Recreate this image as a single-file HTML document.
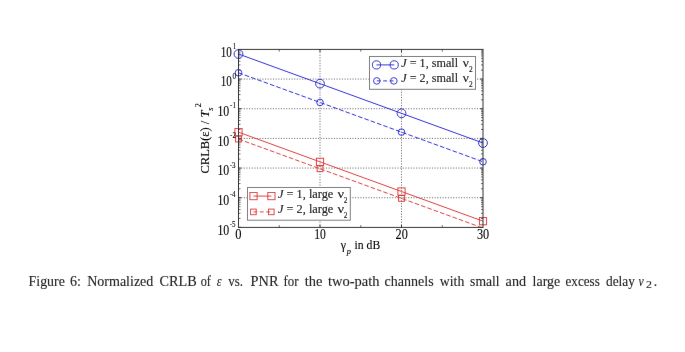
<!DOCTYPE html>
<html><head><meta charset="utf-8"><style>
html,body{margin:0;padding:0;background:#fff;}
body{width:685px;height:352px;overflow:hidden;}
svg{display:block;font-family:"Liberation Serif", serif;}
</style></head><body>
<svg width="685" height="352" viewBox="0 0 685 352"><defs><filter id="bl" filterUnits="userSpaceOnUse" x="0" y="0" width="685" height="352"><feConvolveMatrix order="3" kernelMatrix="0.00087 0.02776 0.00087 0.02776 0.88549 0.02776 0.00087 0.02776 0.00087" divisor="1" edgeMode="none"/></filter></defs><g filter="url(#bl)">
<line x1="320.00" y1="49.4" x2="320.00" y2="227.4" stroke="#6e6e6e" stroke-width="1" stroke-dasharray="1.1 1.55"/>
<line x1="401.50" y1="49.4" x2="401.50" y2="227.4" stroke="#6e6e6e" stroke-width="1" stroke-dasharray="1.1 1.55"/>
<line x1="238.5" y1="197.73" x2="483.0" y2="197.73" stroke="#6e6e6e" stroke-width="1" stroke-dasharray="1.1 1.55"/>
<line x1="238.5" y1="168.07" x2="483.0" y2="168.07" stroke="#6e6e6e" stroke-width="1" stroke-dasharray="1.1 1.55"/>
<line x1="238.5" y1="138.40" x2="483.0" y2="138.40" stroke="#6e6e6e" stroke-width="1" stroke-dasharray="1.1 1.55"/>
<line x1="238.5" y1="108.73" x2="483.0" y2="108.73" stroke="#6e6e6e" stroke-width="1" stroke-dasharray="1.1 1.55"/>
<line x1="238.5" y1="79.07" x2="483.0" y2="79.07" stroke="#6e6e6e" stroke-width="1" stroke-dasharray="1.1 1.55"/>
<path d="M320.00 227.4v-2.5M320.00 49.4v2.5M401.50 227.4v-2.5M401.50 49.4v2.5M238.5 227.40h2.8M483.0 227.40h-2.8M238.5 197.73h2.8M483.0 197.73h-2.8M238.5 168.07h2.8M483.0 168.07h-2.8M238.5 138.40h2.8M483.0 138.40h-2.8M238.5 108.73h2.8M483.0 108.73h-2.8M238.5 79.07h2.8M483.0 79.07h-2.8" stroke="#333333" stroke-width="1" fill="none"/>
<path d="M279.25 227.4v-2.2M279.25 49.4v2.2M360.75 227.4v-2.2M360.75 49.4v2.2M442.25 227.4v-2.2M442.25 49.4v2.2M238.5 218.47h2.0M483.0 218.47h-2.0M238.5 213.25h2.0M483.0 213.25h-2.0M238.5 209.54h2.0M483.0 209.54h-2.0M238.5 206.66h2.0M483.0 206.66h-2.0M238.5 204.31h2.0M483.0 204.31h-2.0M238.5 202.33h2.0M483.0 202.33h-2.0M238.5 200.61h2.0M483.0 200.61h-2.0M238.5 199.09h2.0M483.0 199.09h-2.0M238.5 188.80h2.0M483.0 188.80h-2.0M238.5 183.58h2.0M483.0 183.58h-2.0M238.5 179.87h2.0M483.0 179.87h-2.0M238.5 177.00h2.0M483.0 177.00h-2.0M238.5 174.65h2.0M483.0 174.65h-2.0M238.5 172.66h2.0M483.0 172.66h-2.0M238.5 170.94h2.0M483.0 170.94h-2.0M238.5 169.42h2.0M483.0 169.42h-2.0M238.5 159.14h2.0M483.0 159.14h-2.0M238.5 153.91h2.0M483.0 153.91h-2.0M238.5 150.21h2.0M483.0 150.21h-2.0M238.5 147.33h2.0M483.0 147.33h-2.0M238.5 144.98h2.0M483.0 144.98h-2.0M238.5 143.00h2.0M483.0 143.00h-2.0M238.5 141.27h2.0M483.0 141.27h-2.0M238.5 139.76h2.0M483.0 139.76h-2.0M238.5 129.47h2.0M483.0 129.47h-2.0M238.5 124.25h2.0M483.0 124.25h-2.0M238.5 120.54h2.0M483.0 120.54h-2.0M238.5 117.66h2.0M483.0 117.66h-2.0M238.5 115.31h2.0M483.0 115.31h-2.0M238.5 113.33h2.0M483.0 113.33h-2.0M238.5 111.61h2.0M483.0 111.61h-2.0M238.5 110.09h2.0M483.0 110.09h-2.0M238.5 99.80h2.0M483.0 99.80h-2.0M238.5 94.58h2.0M483.0 94.58h-2.0M238.5 90.87h2.0M483.0 90.87h-2.0M238.5 88.00h2.0M483.0 88.00h-2.0M238.5 85.65h2.0M483.0 85.65h-2.0M238.5 83.66h2.0M483.0 83.66h-2.0M238.5 81.94h2.0M483.0 81.94h-2.0M238.5 80.42h2.0M483.0 80.42h-2.0M238.5 70.14h2.0M483.0 70.14h-2.0M238.5 64.91h2.0M483.0 64.91h-2.0M238.5 61.21h2.0M483.0 61.21h-2.0M238.5 58.33h2.0M483.0 58.33h-2.0M238.5 55.98h2.0M483.0 55.98h-2.0M238.5 54.00h2.0M483.0 54.00h-2.0M238.5 52.27h2.0M483.0 52.27h-2.0M238.5 50.76h2.0M483.0 50.76h-2.0" stroke="#5a5a5a" stroke-width="0.9" fill="none"/>
<clipPath id="c"><rect x="238.5" y="49.4" width="244.5" height="178.0"/></clipPath>
<g clip-path="url(#c)"><polyline points="238.50,54.00 320.00,83.66 401.50,113.33 483.00,143.00" fill="none" stroke="#2a2ad2" stroke-width="0.95"/><polyline points="238.50,72.77 320.00,102.44 401.50,132.11 483.00,161.77" fill="none" stroke="#2a2ad2" stroke-width="0.95" stroke-dasharray="4.6 2.1"/><polyline points="238.50,132.18 320.00,161.85 401.50,191.52 483.00,221.18" fill="none" stroke="#dc3a3a" stroke-width="0.95"/><polyline points="238.50,139.06 320.00,168.73 401.50,198.39 483.00,228.06" fill="none" stroke="#dc3a3a" stroke-width="0.95" stroke-dasharray="4.6 2.1"/></g>
<circle cx="238.50" cy="54.00" r="4.4" fill="none" stroke="#2a2ad2" stroke-width="0.95"/><circle cx="320.00" cy="83.66" r="4.4" fill="none" stroke="#2a2ad2" stroke-width="0.95"/><circle cx="401.50" cy="113.33" r="4.4" fill="none" stroke="#2a2ad2" stroke-width="0.95"/><circle cx="483.00" cy="143.00" r="4.4" fill="none" stroke="#2a2ad2" stroke-width="0.95"/><circle cx="238.50" cy="72.77" r="3.3" fill="none" stroke="#2a2ad2" stroke-width="0.95"/><circle cx="320.00" cy="102.44" r="3.3" fill="none" stroke="#2a2ad2" stroke-width="0.95"/><circle cx="401.50" cy="132.11" r="3.3" fill="none" stroke="#2a2ad2" stroke-width="0.95"/><circle cx="483.00" cy="161.77" r="3.3" fill="none" stroke="#2a2ad2" stroke-width="0.95"/><rect x="234.90" y="128.58" width="7.2" height="7.2" fill="none" stroke="#dc3a3a" stroke-width="0.95"/><rect x="316.40" y="158.25" width="7.2" height="7.2" fill="none" stroke="#dc3a3a" stroke-width="0.95"/><rect x="397.90" y="187.92" width="7.2" height="7.2" fill="none" stroke="#dc3a3a" stroke-width="0.95"/><rect x="479.40" y="217.58" width="7.2" height="7.2" fill="none" stroke="#dc3a3a" stroke-width="0.95"/><rect x="235.60" y="136.16" width="5.8" height="5.8" fill="none" stroke="#dc3a3a" stroke-width="0.95"/><rect x="317.10" y="165.83" width="5.8" height="5.8" fill="none" stroke="#dc3a3a" stroke-width="0.95"/><rect x="398.60" y="195.49" width="5.8" height="5.8" fill="none" stroke="#dc3a3a" stroke-width="0.95"/>
<rect x="238.5" y="49.4" width="244.5" height="178.0" fill="none" stroke="#333333" stroke-width="1"/>
<rect x="369.5" y="56.5" width="106" height="32.8" fill="#fff" stroke="#7c7c7c" stroke-width="1"/>
<line x1="376.5" y1="64.9" x2="394.2" y2="64.9" stroke="#2a2ad2" stroke-width="0.95"/>
<circle cx="376.5" cy="64.9" r="4.1" fill="none" stroke="#2a2ad2" stroke-width="0.95"/>
<circle cx="394.2" cy="64.9" r="4.1" fill="none" stroke="#2a2ad2" stroke-width="0.95"/>
<line x1="376.8" y1="80.9" x2="393.8" y2="80.9" stroke="#2a2ad2" stroke-width="0.95" stroke-dasharray="3.9 2.5"/>
<circle cx="376.8" cy="80.9" r="3.3" fill="none" stroke="#2a2ad2" stroke-width="0.95"/>
<circle cx="393.8" cy="80.9" r="3.3" fill="none" stroke="#2a2ad2" stroke-width="0.95"/>
<rect x="247.5" y="187.5" width="102.8" height="32.7" fill="#fff" stroke="#7c7c7c" stroke-width="1"/>
<line x1="253.5" y1="196.1" x2="271.4" y2="196.1" stroke="#dc3a3a" stroke-width="0.95"/>
<rect x="249.9" y="192.5" width="7.2" height="7.2" fill="none" stroke="#dc3a3a" stroke-width="0.95"/>
<rect x="267.79999999999995" y="192.5" width="7.2" height="7.2" fill="none" stroke="#dc3a3a" stroke-width="0.95"/>
<line x1="253.4" y1="211.9" x2="271.3" y2="211.9" stroke="#dc3a3a" stroke-width="0.95" stroke-dasharray="3.9 2.5"/>
<rect x="250.6" y="209.1" width="5.6" height="5.6" fill="none" stroke="#dc3a3a" stroke-width="0.95"/>
<rect x="268.5" y="209.1" width="5.6" height="5.6" fill="none" stroke="#dc3a3a" stroke-width="0.95"/>
<text x="0" y="0" font-size="14.866" fill="#000000" stroke="#000000" stroke-width="0.1" transform="translate(217.42,234.65) scale(0.7955,1)">10</text>
<text x="0" y="0" font-size="7.800" fill="#000000" stroke="#000000" stroke-width="0.1" transform="translate(229.65,226.90) scale(0.9000,1)">-5</text>
<text x="0" y="0" font-size="14.866" fill="#000000" stroke="#000000" stroke-width="0.1" transform="translate(217.42,204.98) scale(0.7955,1)">10</text>
<text x="0" y="0" font-size="7.800" fill="#000000" stroke="#000000" stroke-width="0.1" transform="translate(229.65,197.23) scale(0.9000,1)">-4</text>
<text x="0" y="0" font-size="14.866" fill="#000000" stroke="#000000" stroke-width="0.1" transform="translate(217.42,175.32) scale(0.7955,1)">10</text>
<text x="0" y="0" font-size="7.800" fill="#000000" stroke="#000000" stroke-width="0.1" transform="translate(229.65,167.57) scale(0.9000,1)">-3</text>
<text x="0" y="0" font-size="14.866" fill="#000000" stroke="#000000" stroke-width="0.1" transform="translate(217.42,145.65) scale(0.7955,1)">10</text>
<text x="0" y="0" font-size="7.800" fill="#000000" stroke="#000000" stroke-width="0.1" transform="translate(230.10,137.90) scale(0.9000,1)">-2</text>
<text x="0" y="0" font-size="14.866" fill="#000000" stroke="#000000" stroke-width="0.1" transform="translate(217.42,115.98) scale(0.7955,1)">10</text>
<text x="0" y="0" font-size="7.800" fill="#000000" stroke="#000000" stroke-width="0.1" transform="translate(230.10,108.23) scale(0.9000,1)">-1</text>
<text x="0" y="0" font-size="14.866" fill="#000000" stroke="#000000" stroke-width="0.1" transform="translate(220.75,86.32) scale(0.7500,1)">10</text>
<text x="0" y="0" font-size="7.800" fill="#000000" stroke="#000000" stroke-width="0.1" transform="translate(232.50,78.87) scale(0.9000,1)">0</text>
<text x="0" y="0" font-size="14.866" fill="#000000" stroke="#000000" stroke-width="0.1" transform="translate(220.75,56.65) scale(0.7500,1)">10</text>
<text x="0" y="0" font-size="7.800" fill="#000000" stroke="#000000" stroke-width="0.1" transform="translate(232.80,48.60) scale(0.9000,1)">1</text>
<text x="0" y="0" font-size="14.866" fill="#000000" stroke="#000000" stroke-width="0.1" transform="translate(235.34,238.65) scale(0.8387,1)">0</text>
<text x="0" y="0" font-size="14.866" fill="#000000" stroke="#000000" stroke-width="0.1" transform="translate(314.13,238.65) scale(0.7803,1)">10</text>
<text x="0" y="0" font-size="14.866" fill="#000000" stroke="#000000" stroke-width="0.1" transform="translate(395.53,238.65) scale(0.8239,1)">20</text>
<text x="0" y="0" font-size="14.866" fill="#000000" stroke="#000000" stroke-width="0.1" transform="translate(476.93,238.65) scale(0.8239,1)">30</text>
<text x="0" y="0" font-size="11.800" fill="#000000" stroke="#000000" stroke-width="0.1" transform="translate(340.70,249.10) scale(1.0000,1)">&#947;</text>
<text x="0" y="0" font-size="8.200" fill="#000000" stroke="#000000" stroke-width="0.1" transform="translate(346.73,253.60) scale(1.0238,1)"><tspan font-style="italic">p</tspan></text>
<text x="0" y="0" font-size="11.800" fill="#000000" stroke="#000000" stroke-width="0.1" transform="translate(354.50,249.10) scale(0.9921,1)">in dB</text>
<text x="0" y="0" font-size="11.500" fill="#000000" stroke="#000000" stroke-width="0.1" transform="translate(401.22,66.80) scale(1.0583,1)"><tspan font-style="italic">J</tspan> = 1, small</text>
<text x="0" y="0" font-size="11.500" fill="#000000" stroke="#000000" stroke-width="0.1" transform="translate(462.87,66.80) scale(1.1667,1)">&#957;</text>
<text x="0" y="0" font-size="7.400" fill="#000000" stroke="#000000" stroke-width="0.1" transform="translate(468.90,71.80) scale(1.0000,1)">2</text>
<text x="0" y="0" font-size="11.500" fill="#000000" stroke="#000000" stroke-width="0.1" transform="translate(401.22,82.10) scale(1.0583,1)"><tspan font-style="italic">J</tspan> = 2, small</text>
<text x="0" y="0" font-size="11.500" fill="#000000" stroke="#000000" stroke-width="0.1" transform="translate(462.87,82.10) scale(1.1667,1)">&#957;</text>
<text x="0" y="0" font-size="7.400" fill="#000000" stroke="#000000" stroke-width="0.1" transform="translate(468.90,87.10) scale(1.0000,1)">2</text>
<text x="0" y="0" font-size="11.500" fill="#000000" stroke="#000000" stroke-width="0.1" transform="translate(278.03,198.10) scale(1.0703,1)"><tspan font-style="italic">J</tspan> = 1, large</text>
<text x="0" y="0" font-size="11.500" fill="#000000" stroke="#000000" stroke-width="0.1" transform="translate(337.40,198.10) scale(1.2619,1)">&#957;</text>
<text x="0" y="0" font-size="7.400" fill="#000000" stroke="#000000" stroke-width="0.1" transform="translate(343.80,202.85) scale(1.0000,1)">2</text>
<text x="0" y="0" font-size="11.500" fill="#000000" stroke="#000000" stroke-width="0.1" transform="translate(278.03,213.30) scale(1.0703,1)"><tspan font-style="italic">J</tspan> = 2, large</text>
<text x="0" y="0" font-size="11.500" fill="#000000" stroke="#000000" stroke-width="0.1" transform="translate(337.40,213.30) scale(1.2619,1)">&#957;</text>
<text x="0" y="0" font-size="7.400" fill="#000000" stroke="#000000" stroke-width="0.1" transform="translate(343.80,218.05) scale(1.0000,1)">2</text>
<text x="0" y="0" font-size="12.200" fill="#000000" stroke="#000000" stroke-width="0.1" transform="translate(208.60,173.50) rotate(-90) scale(1.0245,1)">CRLB(&#949;) / <tspan font-style="italic">T</tspan></text>
<text x="0" y="0" font-size="8.200" fill="#000000" stroke="#000000" stroke-width="0.1" transform="translate(212.90,110.70) rotate(-90) scale(1.0000,1)"><tspan font-style="italic">s</tspan></text>
<text x="0" y="0" font-size="8.200" fill="#000000" stroke="#000000" stroke-width="0.1" transform="translate(200.70,107.35) rotate(-90) scale(1.0000,1)">2</text>
<text x="0" y="0" font-size="13.600" fill="#222222" stroke="#222222" stroke-width="0.1" transform="translate(28.61,285.50) scale(1.0199,1)">Figure</text>
<text x="0" y="0" font-size="13.600" fill="#222222" stroke="#222222" stroke-width="0.1" transform="translate(69.91,285.50) scale(1.0326,1)">6:</text>
<text x="0" y="0" font-size="13.600" fill="#222222" stroke="#222222" stroke-width="0.1" transform="translate(87.21,285.50) scale(1.0316,1)">Normalized</text>
<text x="0" y="0" font-size="13.600" fill="#222222" stroke="#222222" stroke-width="0.1" transform="translate(159.52,285.50) scale(1.0468,1)">CRLB</text>
<text x="0" y="0" font-size="13.600" fill="#222222" stroke="#222222" stroke-width="0.1" transform="translate(200.66,285.50) scale(0.9018,1)">of</text>
<text x="0" y="0" font-size="13.600" fill="#222222" stroke="#222222" stroke-width="0.1" transform="translate(216.65,285.50) scale(0.8846,1)"><tspan font-style="italic">&#949;</tspan></text>
<text x="0" y="0" font-size="13.600" fill="#222222" stroke="#222222" stroke-width="0.1" transform="translate(228.28,285.50) scale(0.9577,1)">vs.</text>
<text x="0" y="0" font-size="13.600" fill="#222222" stroke="#222222" stroke-width="0.1" transform="translate(250.62,285.50) scale(1.0534,1)">PNR</text>
<text x="0" y="0" font-size="13.600" fill="#222222" stroke="#222222" stroke-width="0.1" transform="translate(283.58,285.50) scale(0.9474,1)">for</text>
<text x="0" y="0" font-size="13.600" fill="#222222" stroke="#222222" stroke-width="0.1" transform="translate(304.72,285.50) scale(1.0617,1)">the</text>
<text x="0" y="0" font-size="13.600" fill="#222222" stroke="#222222" stroke-width="0.1" transform="translate(327.93,285.50) scale(1.0685,1)">two-path</text>
<text x="0" y="0" font-size="13.600" fill="#222222" stroke="#222222" stroke-width="0.1" transform="translate(384.61,285.50) scale(1.0318,1)">channels</text>
<text x="0" y="0" font-size="13.600" fill="#222222" stroke="#222222" stroke-width="0.1" transform="translate(439.81,285.50) scale(1.0129,1)">with</text>
<text x="0" y="0" font-size="13.600" fill="#222222" stroke="#222222" stroke-width="0.1" transform="translate(470.10,285.50) scale(1.0000,1)">small</text>
<text x="0" y="0" font-size="13.600" fill="#222222" stroke="#222222" stroke-width="0.1" transform="translate(505.62,285.50) scale(1.0417,1)">and</text>
<text x="0" y="0" font-size="13.600" fill="#222222" stroke="#222222" stroke-width="0.1" transform="translate(532.61,285.50) scale(1.0229,1)">large</text>
<text x="0" y="0" font-size="13.600" fill="#222222" stroke="#222222" stroke-width="0.1" transform="translate(565.49,285.50) scale(0.9659,1)">excess</text>
<text x="0" y="0" font-size="13.600" fill="#222222" stroke="#222222" stroke-width="0.1" transform="translate(605.99,285.50) scale(0.9829,1)">delay</text>
<text x="0" y="0" font-size="13.600" fill="#222222" stroke="#222222" stroke-width="0.1" transform="translate(638.45,285.50) scale(0.8654,1)"><tspan font-style="italic">&#957;</tspan></text>
<text x="0" y="0" font-size="9.500" fill="#222222" stroke="#222222" stroke-width="0.1" transform="translate(646.12,288.25) scale(1.2500,1)">2</text>
<text x="0" y="0" font-size="13.600" fill="#222222" stroke="#222222" stroke-width="0.1" transform="translate(653.65,285.50) scale(1.0000,1)">.</text>
</g></svg>
</body></html>
